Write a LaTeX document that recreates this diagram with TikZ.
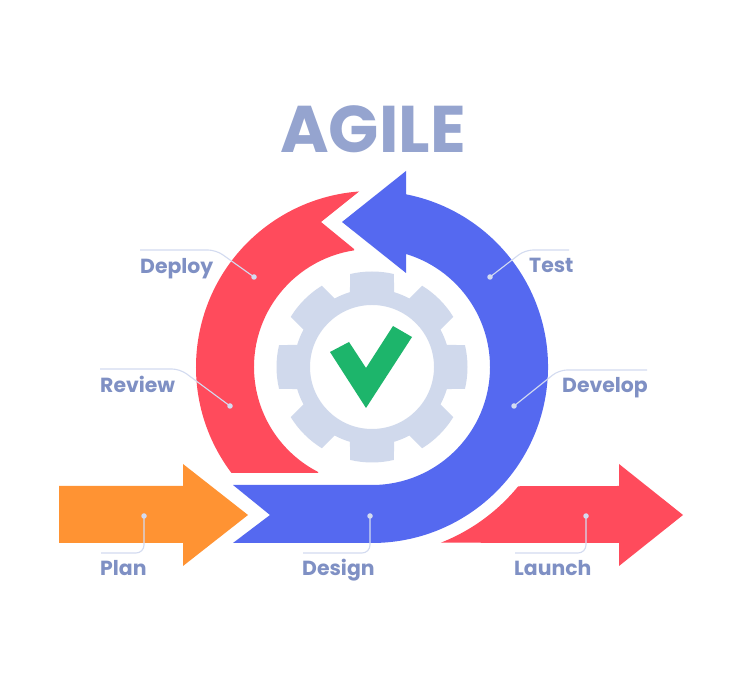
\documentclass[tikz,border=0pt]{standalone}
\usepackage{fontspec}
\setmainfont{Poppins}
\definecolor{cblue}{HTML}{5569F0}
\definecolor{cred}{HTML}{FF4B5C}
\definecolor{corange}{HTML}{FF9333}
\definecolor{cgreen}{HTML}{1DB56B}
\definecolor{cgear}{HTML}{D0D9EC}
\definecolor{clabel}{HTML}{7F90C4}
\definecolor{ctitle}{HTML}{95A4CF}
\definecolor{cleader}{HTML}{D3DBF0}
\tikzset{
  lab/.style={anchor=base west,inner sep=0pt,text=clabel,font=\fontsize{20.4}{22}\selectfont\bfseries},
  dotmark/.style={circle,fill=cleader,inner sep=0pt,minimum size=5.5pt},
  leader/.style={draw=cleader,line width=1.1pt,rounded corners=8pt}
}
\begin{document}
\begin{tikzpicture}[x=1pt,y=1pt]
\useasboundingbox (0,0) rectangle (743,700);
\fill[white] (0,0) rectangle (743,700);
\coordinate (C) at (372,333);
% gear
\begin{scope}[shift={(372,333)}]
\fill[cgear,even odd rule]
  (-16.4:78)
  \foreach \a in {0,45,...,315}{
    -- ({\a-16.4}:78) -- ({\a-13.3}:95.5) arc[start angle={\a-13.3},end angle={\a+13.3},radius=95.5]
    -- ({\a+16.4}:78) arc[start angle={\a+16.4},end angle={\a+45-16.4},radius=78]
  } -- cycle
  (0,0) circle[radius=62];
\end{scope}
% check mark
\fill[cgreen] (330,348) -- (349,358) -- (366,332) -- (393,374) -- (412,363) -- (366,292) -- cycle;
% orange arrow
\fill[corange] (59,214) -- (183,214) -- (183,236) -- (248,185) -- (183,134) -- (183,157) -- (59,157) -- cycle;
% launch arrow
\fill[cred] ([shift={(-68.6:188.7)}]C) arc[start angle=-68.6,end angle=-39.2,radius=188.7]
  -- (619,214) -- (619,236) -- (683,185) -- (619,134) -- (619,157) -- cycle;
% red arc arrow
\fill[cred] ([shift={(217.03:176)}]C) arc[start angle=217.03,end angle=94.2,radius=176]
  -- (321,478) -- (354,451) -- ([shift={(98.7:118)}]C) arc[start angle=98.7,end angle=243,radius=118] -- (317.5,227) -- cycle;
% blue arc arrow
\fill[cblue] (342,478) -- (406,529) -- ([shift={(78.86:176)}]C)
  arc[start angle=78.86,end angle=-90,radius=176]
  -- (233,157) -- (270,185) -- (233,215) -- (372,215)
  arc[start angle=-90,end angle=73.25,radius=118]
  -- (406,427) -- cycle;
% title
\node[anchor=base west,inner sep=0pt,text=ctitle,font=\fontsize{66}{70}\selectfont\bfseries] (title) at (280,547) {AGILE};
% labels
\node[lab] (deploy) at (140,426.5) {Deploy};
\node[lab] (review) at (100,307.5) {Review};
\node[lab] (test) at (529,427.5) {Test};
\node[lab] (develop) at (562,307.5) {Develop};
\node[lab] (plan) at (100,124.5) {Plan};
\node[lab] (design) at (302,124.5) {Design};
\node[lab] (launch) at (514,124.5) {Launch};
% dots
\node[dotmark] (dDeploy) at (254,423) {};
\node[dotmark] (dReview) at (230,294) {};
\node[dotmark] (dTest) at (490,423) {};
\node[dotmark] (dDevelop) at (514,294) {};
\node[dotmark] (dPlan) at (144,184) {};
\node[dotmark] (dDesign) at (370,184) {};
\node[dotmark] (dLaunch) at (586,184) {};
% leader bends and ends
\coordinate (bDeploy) at (216,450); \coordinate (eDeploy) at (140,450);
\coordinate (bReview) at (180,331); \coordinate (eReview) at (100,331);
\coordinate (bTest) at (525,450); \coordinate (eTest) at (569,450);
\coordinate (bDevelop) at (559,330); \coordinate (eDevelop) at (647,330);
\coordinate (bPlan) at (144,147); \coordinate (ePlan) at (101,147);
\coordinate (bDesign) at (370,147); \coordinate (eDesign) at (303,147);
\coordinate (bLaunch) at (586,147); \coordinate (eLaunch) at (515,147);
% leaders
\draw[leader] (dDeploy.center) -- (bDeploy) -- (eDeploy);
\draw[leader] (dReview.center) -- (bReview) -- (eReview);
\draw[leader] (dTest.center) -- (bTest) -- (eTest);
\draw[leader] (dDevelop.center) -- (bDevelop) -- (eDevelop);
\draw[leader] (dPlan.center) -- (bPlan) -- (ePlan);
\draw[leader] (dDesign.center) -- (bDesign) -- (eDesign);
\draw[leader] (dLaunch.center) -- (bLaunch) -- (eLaunch);
\end{tikzpicture}
\end{document}
